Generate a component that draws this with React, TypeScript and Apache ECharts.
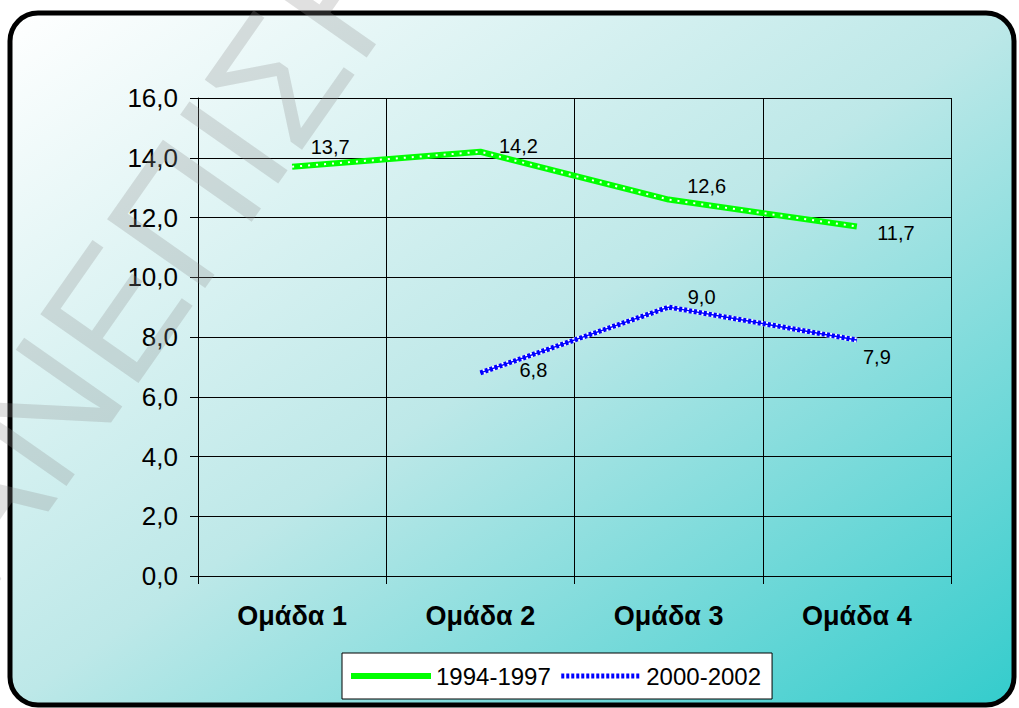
import React, { useEffect, useRef } from "react";
import * as echarts from "echarts";

const categories = ["Ομάδα 1", "Ομάδα 2", "Ομάδα 3", "Ομάδα 4"];
const seriesNames = ["1994-1997", "2000-2002"];
const values1994 = [13.7, 14.2, 12.6, 11.7];
const values2000: (number | null)[] = [null, 6.8, 9.0, 7.9];
const yTicks = { min: 0, max: 16, interval: 2 };
const watermarkText = "ΑΝΕΠΙΣΗΜΟ";

const FONT = "'Liberation Sans', Arial, sans-serif";
const fmt = (v: number) => v.toFixed(1).replace(".", ",");

// label offsets (style only)
const offs1994 = [[38, -20], [38, -6], [38, -14], [39, 7]];
const offs2000 = [[0, 0], [53, -3], [33, -10], [20, 17]];

export default function App() {
  const ref = useRef<HTMLDivElement>(null);
  useEffect(() => {
    if (!ref.current) return;
    const chart = echarts.init(ref.current, undefined, { renderer: "svg" });
    const labelBase = {
      show: true,
      position: "inside",
      color: "#000",
      fontSize: 20,
      fontFamily: FONT,
      formatter: (p: any) => fmt(p.value),
    };
    const mk = (vals: (number | null)[], offs: number[][]) =>
      vals.map((v, i) =>
        v === null ? null : { value: v, label: { offset: offs[i] } }
      );
    const transparentItem = { color: "rgba(0,0,0,0)", borderWidth: 0 };
    chart.setOption({
      animation: false,
      grid: { left: 198, right: 68, top: 98, bottom: 132 },
      graphic: [
        {
          type: "rect",
          z: -10,
          shape: { x: 10, y: 13, width: 1004, height: 692, r: 28 },
          style: {
            fill: new echarts.graphic.LinearGradient(0, 0, 1, 1, [
              { offset: 0, color: "#ffffff" },
              { offset: 0.5, color: "#bde8e8" },
              { offset: 1, color: "#33cccc" },
            ]),
            stroke: "#000",
            lineWidth: 5,
          },
        },
        {
          type: "text",
          z: 100,
          x: 242,
          y: 130,
          rotation: (55 * Math.PI) / 180,
          silent: true,
          style: {
            text: watermarkText,
            fontSize: 174,
            fontFamily: FONT,
            fill: "rgba(140,140,140,0.27)",
            align: "center",
            verticalAlign: "middle",
          },
        },
      ],
      legend: {
        data: [
          { name: seriesNames[0], lineStyle: { width: 6 } },
          { name: seriesNames[1], lineStyle: { width: 5 } },
        ],
        left: 342,
        top: 653,
        padding: [8, 11, 8, 6],
        itemWidth: 80,
        itemHeight: 14,
        itemGap: 8,
        backgroundColor: "#fff",
        borderColor: "#000",
        borderWidth: 1,
        borderRadius: 0,
        textStyle: { fontSize: 24, fontFamily: FONT, color: "#000", lineHeight: 30 },
      },
      xAxis: {
        type: "category",
        data: categories,
        boundaryGap: true,
        axisLine: { lineStyle: { color: "#000", width: 1 } },
        axisTick: { show: true, length: 8, lineStyle: { color: "#000" } },
        splitLine: { show: true, lineStyle: { color: "#000", width: 1 } },
        axisLabel: {
          margin: 26,
          fontSize: 27,
          fontWeight: "bold",
          fontFamily: FONT,
          color: "#000",
        },
      },
      yAxis: {
        type: "value",
        min: yTicks.min,
        max: yTicks.max,
        interval: yTicks.interval,
        axisLine: { show: true, lineStyle: { color: "#000", width: 1 } },
        axisTick: { show: true, length: 8, lineStyle: { color: "#000" } },
        splitLine: { show: true, lineStyle: { color: "#000", width: 1 } },
        axisLabel: {
          margin: 20,
          fontSize: 26,
          fontFamily: FONT,
          color: "#000",
          formatter: (v: number) => fmt(v),
        },
      },
      series: [
        {
          name: seriesNames[0],
          type: "line",
          data: mk(values1994, offs1994),
          symbol: "circle",
          symbolSize: 1,
          itemStyle: transparentItem,
          lineStyle: { color: "#00ff00", width: 6 },
          label: labelBase,
          z: 3,
        },
        {
          name: "_g_overlay",
          type: "line",
          data: values1994,
          symbol: "none",
          lineStyle: { color: "#ffffff", width: 2, type: [2, 6] },
          silent: true,
          z: 4,
        },
        {
          name: "_b_under",
          type: "line",
          data: values2000,
          symbol: "none",
          lineStyle: { color: "#ffffff", width: 5 },
          silent: true,
          z: 3,
        },
        {
          name: seriesNames[1],
          type: "line",
          data: mk(values2000, offs2000),
          symbol: "circle",
          symbolSize: 1,
          itemStyle: transparentItem,
          lineStyle: { color: "#0000ff", width: 5, type: [3, 2] },
          label: labelBase,
          z: 4,
        },
        {
          name: "_b_center",
          type: "line",
          data: values2000,
          symbol: "none",
          lineStyle: { color: "#0000ff", width: 1.5 },
          silent: true,
          z: 5,
        },
      ],
    });
    return () => chart.dispose();
  }, []);
  return (
    <div
      ref={ref}
      style={{ position: "absolute", left: 0, top: 0, width: 1019, height: 708 }}
    />
  );
}
